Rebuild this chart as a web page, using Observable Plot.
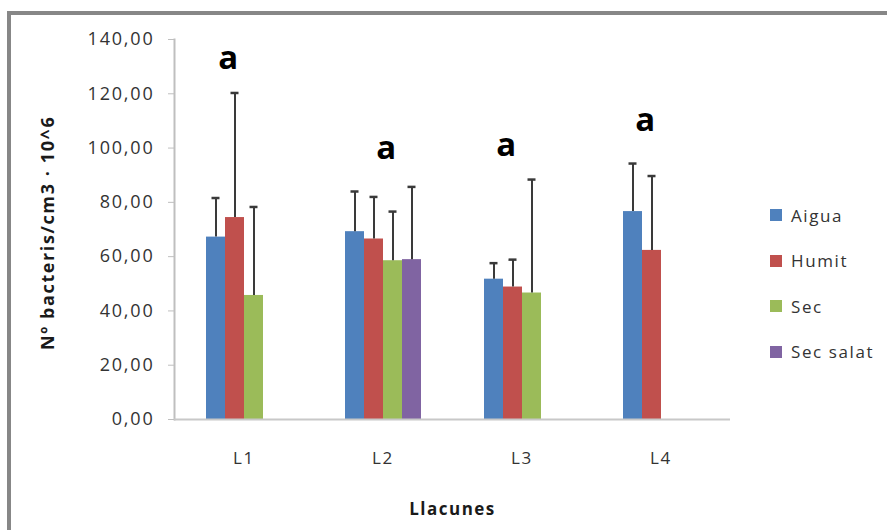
<!DOCTYPE html>
<html>
<head>
<meta charset="utf-8">
<script src="https://cdn.jsdelivr.net/npm/d3@7"></script>
<script src="https://cdn.jsdelivr.net/npm/@observablehq/plot@0.6"></script>
<style>
  html, body { margin: 0; padding: 0; background: #fff; overflow: hidden; }
  #wrap { position: relative; width: 887px; height: 530px; overflow: hidden; font-family: "Open Sans", Lato, sans-serif; }
  #border { position: absolute; left: 7px; top: 11px; width: 1000px; height: 700px; border-left: 4px solid #878787; border-top: 4px solid #878787; box-sizing: border-box; }
  #chart { position: absolute; left: 0; top: 0; }
  .title { position: absolute; font-weight: bold; font-size: 17px; letter-spacing: 1.5px; color: #1a1a1a; white-space: nowrap; }
  #ytitle { font-size: 18px; letter-spacing: 1.6px; }
  #legend { position: absolute; left: 770px; top: 0; }
  .item { position: absolute; left: 0; white-space: nowrap; font-size: 17px; letter-spacing: 1.6px; color: #333; display: flex; align-items: center; }
  .sw { width: 12px; height: 12px; margin-right: 9px; }
</style>
</head>
<body>
<div id="wrap">
  <div id="border"></div>
  <div id="chart"></div>
  <div class="title" id="ytitle">Nº bacteris/cm3 · 10^6</div>
  <div class="title" id="xtitle">Llacunes</div>
  <div id="legend"></div>
</div>
<script>
// ---- data ----
const categories = ["L1", "L2", "L3", "L4"];
const series = ["Aigua", "Humit", "Sec", "Sec salat"];
const colors = ["#4F81BD", "#C0504D", "#9BBB59", "#8064A2"];
const aigua = [67.2, 69.2, 51.7, 76.6];
const humit = [74.4, 66.5, 48.8, 62.3];
const sec = [45.7, 58.5, 46.6, null];
const secSalat = [null, 58.9, null, null];
const aiguaSd = [14.4, 14.8, 5.9, 17.7];
const humitSd = [45.9, 15.5, 10.1, 27.4];
const secSd = [32.6, 18.1, 41.8, null];
const secSalatSd = [null, 26.8, null, null];
const yTicks = [0, 20, 40, 60, 80, 100, 120, 140];
const letterCats = ["L1", "L2", "L3", "L4"];
const letterTexts = ["a", "a", "a", "a"];
const letterY = [133, 100, 101, 110];
const letterAnchor = ["Humit", "Sec", "Humit", "Humit"];

// ---- build table ----
const valueSets = [aigua, humit, sec, secSalat];
const sdSets = [aiguaSd, humitSd, secSd, secSalatSd];
const rows = [];
series.forEach((s, si) => {
  categories.forEach((c, ci) => {
    const v = valueSets[si][ci];
    if (v == null) return;
    rows.push({cat: c, series: s, value: v, top: v + sdSets[si][ci]});
  });
});
const letters = letterCats.map((c, i) => ({cat: c, series: letterAnchor[i], y: letterY[i], text: letterTexts[i]}));

const fmt = d => d.toFixed(2).replace(".", ",");

const chart = Plot.plot({
  width: 887,
  height: 530,
  marginLeft: 173,
  marginRight: 157,
  marginTop: 39,
  marginBottom: 111,
  style: {fontFamily: "'Open Sans', Lato, sans-serif", fontSize: "18px", letterSpacing: "1.8px", background: "transparent", overflow: "visible", color: "#333"},
  fx: {domain: categories, padding: 0, label: null},
  x: {domain: series, paddingInner: 0, paddingOuter: 1.481, axis: null},
  y: {domain: [0, 140], label: null},
  color: {domain: series, range: colors},
  marks: [
    Plot.axisY({ticks: yTicks, tickSize: 6, tickPadding: 14, tickFormat: fmt, label: null, stroke: "#bfbfbf", fill: "#333", fontSize: 18}),
    Plot.axisFx({anchor: "bottom", tickSize: 0, tickPadding: 32, label: null, fill: "#333", fontSize: 17}),
    Plot.frame({anchor: "left", facetAnchor: "left", stroke: "#bfbfbf", strokeWidth: 2}),
    Plot.barY(rows, {fx: "cat", x: "series", y: "value", fill: "series", inset: 0}),
    Plot.ruleX(rows, {fx: "cat", x: "series", y1: "value", y2: "top", stroke: "#3a3a3a", strokeWidth: 2}),
    Plot.tickY(rows, {fx: "cat", x: "series", y: "top", stroke: "#3a3a3a", strokeWidth: 2.5, insetLeft: 5.5, insetRight: 5.5}),
    Plot.ruleY([0], {stroke: "#c8c8c8", strokeWidth: 2}),
    Plot.text(letters, {fx: "cat", x: "series", y: "y", text: "text", dx: -6, fontSize: 33, fontWeight: "bold", fill: "#000", lineAnchor: "middle"})
  ]
});
document.getElementById("chart").appendChild(chart);

// ---- titles & legend (HTML) ----
const yt = document.getElementById("ytitle");
const ys = chart.scale("y");
const yMid = (ys.range[0] + ys.range[1]) / 2;
const w = yt.getBoundingClientRect().width;
const h = yt.getBoundingClientRect().height;
yt.style.transformOrigin = "0 0";
yt.style.left = (47 - h / 2) + "px";
yt.style.top = (yMid + w / 2 + 4) + "px";
yt.style.transform = "rotate(-90deg)";

const xt = document.getElementById("xtitle");
const xMid = 173 + (887 - 173 - 157) / 2;
const xw = xt.getBoundingClientRect().width;
const xh = xt.getBoundingClientRect().height;
xt.style.left = (xMid - xw / 2 + 1) + "px";
xt.style.top = (508 - xh / 2) + "px";

const legend = document.getElementById("legend");
series.forEach((s, i) => {
  const item = document.createElement("div");
  item.className = "item";
  item.style.top = (215 + i * 45.6 - 12) + "px";
  item.style.height = "24px";
  const sw = document.createElement("div");
  sw.className = "sw";
  sw.style.background = colors[i];
  item.appendChild(sw);
  const t = document.createElement("span");
  t.textContent = s;
  item.appendChild(t);
  legend.appendChild(item);
});
</script>
</body>
</html>
